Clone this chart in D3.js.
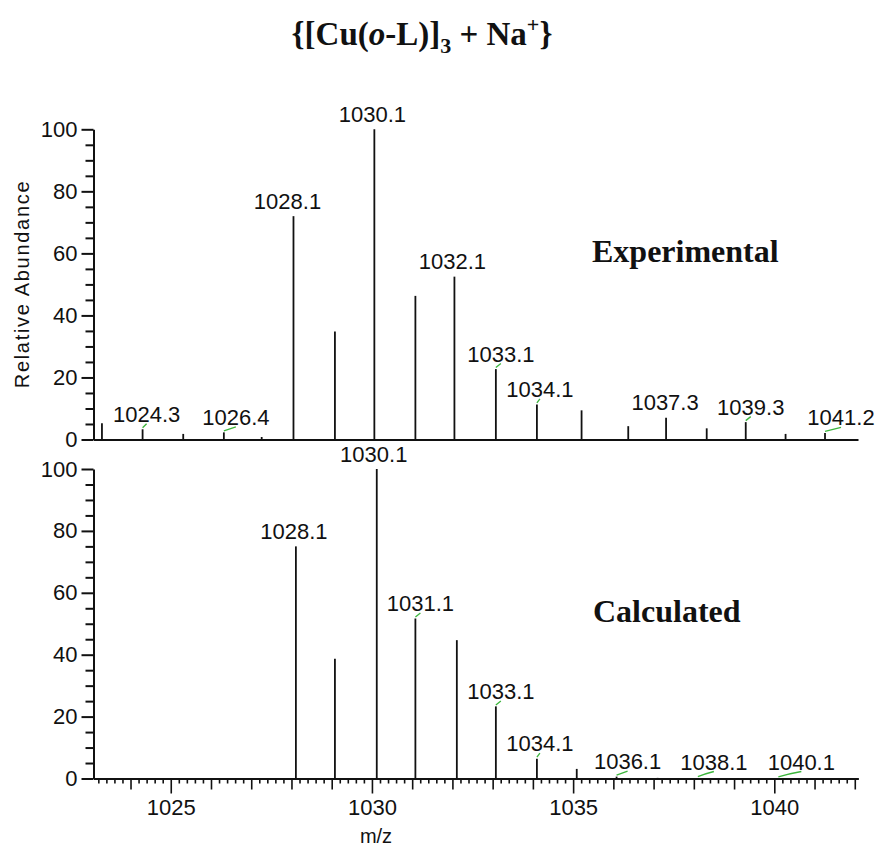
<!DOCTYPE html>
<html>
<head>
<meta charset="utf-8">
<script src="https://cdn.jsdelivr.net/npm/d3@7/dist/d3.min.js"></script>
<style>
  html, body { margin: 0; padding: 0; background: #fff; }
  svg { display: block; }
  text { fill: #111; }
</style>
</head>
<body>
<svg id="chart" width="880" height="850"></svg>
<script>
// ---------- DATA ----------
const expMz = [1023.29, 1024.30, 1025.31, 1026.32, 1027.26, 1028.05, 1029.08, 1030.06, 1031.08, 1032.05,
               1033.08, 1034.10, 1035.21, 1036.37, 1037.31, 1038.32, 1039.29, 1040.28, 1041.26];
const expAbundance = [5.2, 3.3, 1.8, 2.3, 0.8, 72, 34.8, 100, 46.3, 52.5,
                      22.7, 11.3, 9.4, 4.3, 7.0, 3.6, 5.6, 1.8, 2.1];
const expLabels = ["1024.3", "1026.4", "1028.1", "1030.1", "1032.1", "1033.1", "1034.1", "1037.3", "1039.3", "1041.2"];

const calcMz = [1028.11, 1029.08, 1030.12, 1031.08, 1032.11, 1033.08, 1034.10, 1035.09, 1036.08, 1037.10, 1038.10, 1039.10, 1040.10];
const calcAbundance = [75, 38.7, 100, 51.7, 44.7, 23.3, 6.4, 3.1, 0.6, 0.2, 0.1, 0.05, 0.02];
const calcLabels = ["1028.1", "1030.1", "1031.1", "1033.1", "1034.1", "1036.1", "1038.1", "1040.1"];

const yTickLabels = [0, 20, 40, 60, 80, 100];
const xTickLabels = [1025, 1030, 1035, 1040];
const xDomain = [1023.08, 1042.08];

const titleParts = ["{[Cu(", "o", "-L)]", "3", " + Na", "+", "}"];
const panelNames = ["Experimental", "Calculated"];
const yAxisTitle = "Relative Abundance";
const xAxisTitle = "m/z";

// ---------- LAYOUT ----------
const svg = d3.select("#chart");
const left = 93.5, right = 858;
const x = d3.scaleLinear().domain(xDomain).range([left, right]);
const panels = [
  { mz: expMz, ab: expAbundance, labels: expLabels, y: d3.scaleLinear().domain([0, 100]).range([439.5, 129.3]),
    name: panelNames[0], nameX: 592, nameY: 262, bottomTicks: false,
    nudge: {"1024.3": 4, "1026.4": 12, "1028.1": -6, "1030.1": -2, "1032.1": -2, "1033.1": 5, "1034.1": 3, "1037.3": -1, "1039.3": 5, "1041.2": 16} },
  { mz: calcMz, ab: calcAbundance, labels: calcLabels, y: d3.scaleLinear().domain([0, 100]).range([778.5, 469]),
    name: panelNames[1], nameX: 593, nameY: 622, bottomTicks: true,
    nudge: {"1028.1": -2, "1030.1": -3, "1031.1": 5, "1033.1": 5, "1034.1": 3, "1036.1": 11, "1038.1": 16, "1040.1": 23} }
];

const tickFont = "'Liberation Sans', Arial, sans-serif";
const serif = "'Liberation Serif', 'Times New Roman', serif";

panels.forEach(p => {
  const g = svg.append("g");
  const y = p.y;

  // y axis: major + minor ticks
  const yMajor = d3.axisLeft(y).tickValues(yTickLabels).tickSize(12).tickSizeOuter(0).tickPadding(4);
  const gy = g.append("g").attr("transform", `translate(${left},0)`).call(yMajor);
  gy.selectAll("text").style("font-family", tickFont).style("font-size", "22px").attr("fill", "#111");
  const yMinor = d3.axisLeft(y).tickValues(d3.range(0, 101, 5).filter(v => v % 20 !== 0)).tickSize(8).tickFormat("");
  const gy2 = g.append("g").attr("transform", `translate(${left},0)`).call(yMinor);
  gy2.select(".domain").remove();
  [gy, gy2].forEach(a => {
    a.selectAll("line").attr("stroke", "#111").attr("stroke-width", 2);
    a.selectAll(".domain").attr("stroke", "#111").attr("stroke-width", 2);
  });

  // x axis baseline
  if (p.bottomTicks) {
    const y0 = y(0);
    const minorVals = d3.range(Math.ceil(xDomain[0] * 5), Math.floor(xDomain[1] * 5) + 1).map(v => v / 5)
      .filter(v => Math.abs(v - Math.round(v)) > 1e-6);
    const intVals = d3.range(Math.ceil(xDomain[0]), Math.floor(xDomain[1]) + 1).filter(v => v % 5 !== 0);
    const xMinor = d3.axisBottom(x).tickValues(minorVals).tickSize(5).tickSizeOuter(0).tickFormat("");
    const xInt = d3.axisBottom(x).tickValues(intVals).tickSize(11).tickSizeOuter(0).tickFormat("");
    const xMaj = d3.axisBottom(x).tickValues(xTickLabels).tickSize(15).tickSizeOuter(0).tickPadding(6).tickFormat(d3.format("d"));
    [xMinor, xInt, xMaj].forEach((ax, i) => {
      const gx = g.append("g").attr("transform", `translate(0,${y0})`).call(ax);
      gx.selectAll("line").attr("stroke", "#111").attr("stroke-width", 1.6);
      gx.select(".domain").attr("stroke", "#111").attr("stroke-width", 2);
      gx.selectAll("text").style("font-family", tickFont).style("font-size", "22px").attr("fill", "#111");
    });
  } else {
    const xPlain = d3.axisBottom(x).tickValues([]).tickSizeOuter(0);
    const gx = g.append("g").attr("transform", `translate(0,${y(0)})`).call(xPlain);
    gx.select(".domain").attr("stroke", "#111").attr("stroke-width", 2);
  }

  // sticks
  const peaks = p.mz.map((m, i) => ({ mz: m, ab: p.ab[i] }));
  g.append("g").selectAll("line").data(peaks).join("line")
    .attr("x1", d => x(d.mz)).attr("x2", d => x(d.mz))
    .attr("y1", y(0)).attr("y2", d => y(d.ab))
    .attr("stroke", "#111").attr("stroke-width", 1.8);

  // peak labels
  p.labels.forEach(lbl => {
    const v = +lbl;
    const pk = peaks.reduce((a, b) => Math.abs(b.mz - v) < Math.abs(a.mz - v) ? b : a);
    const px = x(pk.mz), top = y(pk.ab);
    const dx = p.nudge[lbl] || 0;
    const cx = px + dx;
    const base = Math.min(top - 7.5, y(0) - 9);
    g.append("text").attr("x", cx).attr("y", base).attr("text-anchor", "middle")
      .style("font-family", tickFont).style("font-size", "22px").text(lbl);
    if (dx >= 3) {
      const sy = top - 1.5, ey = base + 3;
      g.append("path")
        .attr("d", `M${px},${sy} Q${(px + cx) / 2},${ey + 1} ${cx},${ey - 1}`)
        .attr("fill", "none").attr("stroke", "#3bb53b").attr("stroke-width", 1.3);
    }
  });

  // panel name
  g.append("text").attr("x", p.nameX).attr("y", p.nameY)
    .style("font-family", serif).style("font-weight", "bold").style("font-size", "32px").text(p.name);
});

// y axis title
svg.append("text").attr("transform", "translate(29,284) rotate(-90)").attr("text-anchor", "middle")
  .style("font-family", tickFont).style("font-size", "20px").style("letter-spacing", "1.7px").text(yAxisTitle);

// x axis title
svg.append("text").attr("x", 376).attr("y", 843).attr("text-anchor", "middle")
  .style("font-family", tickFont).style("font-size", "20px").text(xAxisTitle);

// title
const t = svg.append("text").attr("x", 422).attr("y", 45).attr("text-anchor", "middle")
  .style("font-family", serif).style("font-weight", "bold").style("font-size", "33px");
t.append("tspan").text(titleParts[0]);
t.append("tspan").style("font-style", "italic").text(titleParts[1]);
t.append("tspan").text(titleParts[2]);
t.append("tspan").attr("dy", 8).style("font-size", "22px").text(titleParts[3]);
t.append("tspan").attr("dy", -8).text(titleParts[4]);
t.append("tspan").attr("dy", -13).style("font-size", "22px").text(titleParts[5]);
t.append("tspan").attr("dy", 13).text(titleParts[6]);
</script>
</body>
</html>
